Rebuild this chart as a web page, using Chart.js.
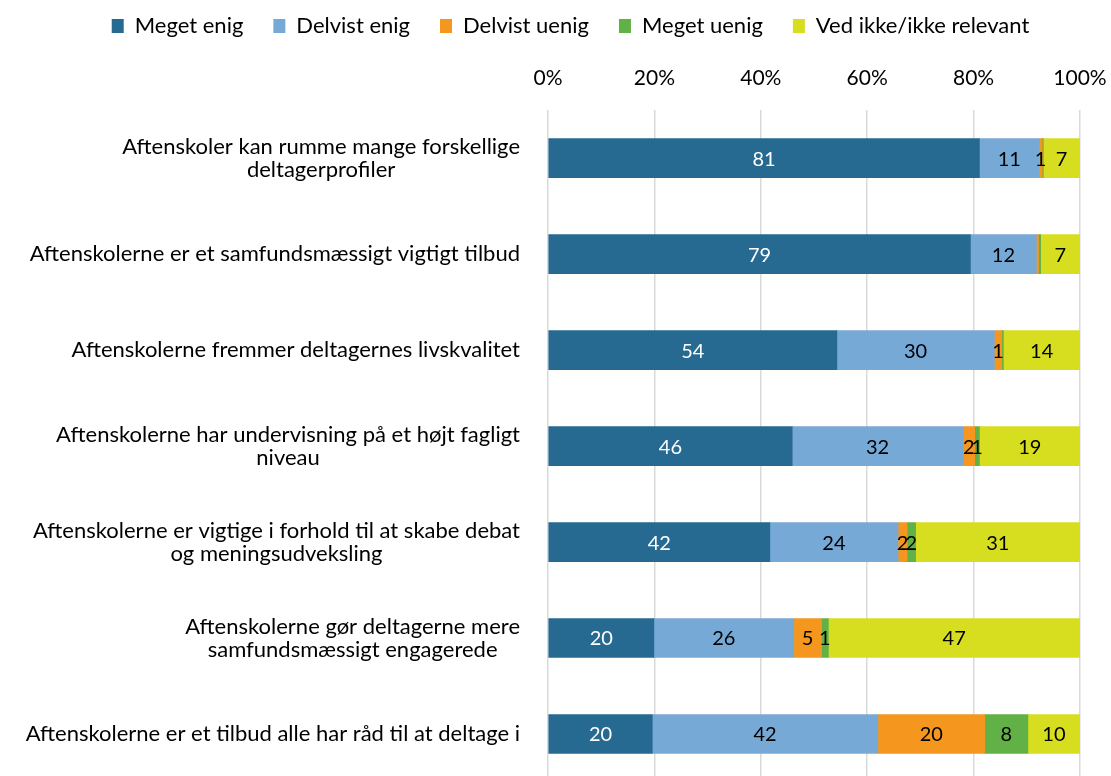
<!DOCTYPE html>
<html>
<head>
<meta charset="utf-8">
<script src="https://cdn.jsdelivr.net/npm/chart.js@4.4.1/dist/chart.umd.min.js"></script>
<style>
  html, body { margin: 0; padding: 0; background: #ffffff; overflow: hidden; }
  #wrap { width: 1111px; height: 776px; overflow: hidden; }
</style>
</head>
<body>
<div id="wrap"><canvas id="chart" width="1111" height="782"></canvas></div>
<script>
// Statements (y axis categories)
const categories = [
    ["Aftenskoler kan rumme mange forskellige", "deltagerprofiler"],
    ["Aftenskolerne er et samfundsmæssigt vigtigt tilbud"],
    ["Aftenskolerne fremmer deltagernes livskvalitet"],
    ["Aftenskolerne har undervisning på et højt fagligt", "niveau"],
    ["Aftenskolerne er vigtige i forhold til at skabe debat", "og meningsudveksling"],
    ["Aftenskolerne gør deltagerne mere", "samfundsmæssigt engagerede"],
    ["Aftenskolerne er et tilbud alle har råd til at deltage i"]
];

// Answer shares in percent
const megetEnig   = [81.1, 79.4, 54.3, 45.9, 41.7, 19.9, 19.6];
const delvistEnig = [11.2, 12.4, 29.6, 32.1, 24.1, 26.3, 42.4];
const delvistUenig = [0.6, 0.4, 1.4, 2.2, 1.7, 5.2, 20.1];
const megetUenig  = [0.2, 0.4, 0.3, 0.9, 1.6, 1.3, 8.1];
const vedIkke     = [6.9, 7.4, 14.4, 18.9, 30.9, 47.3, 9.8];

const seriesNames = ["Meget enig", "Delvist enig", "Delvist uenig", "Meget uenig", "Ved ikke/ikke relevant"];
const seriesColors = ["#266A91", "#77A9D7", "#F5961F", "#62B146", "#D6DE1F"];
const labelColors = ["#ffffff", "#000000", "#000000", "#000000", "#000000"];

const xTicks = [0, 20, 40, 60, 80, 100];

const FONT = "Lato";
const PAD_LEFT = 30;

// value labels inside the segments
const segmentLabels = {
    id: "segmentLabels",
    afterDatasetsDraw(chart) {
        const ctx = chart.ctx;
        ctx.save();
        ctx.font = "20px " + FONT;
        ctx.textAlign = "center";
        ctx.textBaseline = "middle";
        chart.data.datasets.forEach((ds, di) => {
            const meta = chart.getDatasetMeta(di);
            meta.data.forEach((bar, i) => {
                const v = ds.data[i];
                if (v < 0.5) return;
                const left = Math.min(bar.x, bar.base);
                const right = Math.max(bar.x, bar.base);
                ctx.fillStyle = labelColors[di];
                ctx.fillText(String(Math.round(v)), (left + right) / 2, bar.y + 1);
            });
        });
        ctx.restore();
    }
};

// category labels: block right-aligned to the axis, lines centred inside the block
const categoryLabels = {
    id: "categoryLabels",
    afterDraw(chart) {
        const ctx = chart.ctx;
        const yScale = chart.scales.y;
        const rightEdge = chart.chartArea.left - 28;
        const lineHeight = 23;
        ctx.save();
        ctx.font = "22px " + FONT;
        ctx.fillStyle = "#000000";
        ctx.textAlign = "center";
        ctx.textBaseline = "middle";
        categories.forEach((lines, i) => {
            const y = yScale.getPixelForTick(i);
            const blockW = Math.max(...lines.map(l => ctx.measureText(l).width));
            const cx = rightEdge - blockW / 2;
            const y0 = y - (lines.length - 1) * lineHeight / 2;
            lines.forEach((l, k) => ctx.fillText(l, cx, y0 + k * lineHeight));
        });
        ctx.restore();
    }
};

const allSeries = [megetEnig, delvistEnig, delvistUenig, megetUenig, vedIkke];

new Chart(document.getElementById("chart").getContext("2d"), {
    type: "bar",
    data: {
        labels: categories.map(c => c.join(" ")),
        datasets: allSeries.map((data, i) => ({
            label: seriesNames[i],
            data: data,
            backgroundColor: seriesColors[i],
            borderWidth: 0,
            barThickness: 39
        }))
    },
    options: {
        indexAxis: "y",
        responsive: false,
        animation: false,
        layout: { padding: { left: PAD_LEFT, right: 0, top: -15, bottom: 0 } },
        scales: {
            x: {
                position: "top",
                stacked: true,
                min: 0,
                max: 100,
                afterBuildTicks(scale) {
                    scale.ticks = xTicks.map(v => ({ value: v }));
                },
                afterFit(scale) {
                    scale.paddingLeft = 0;
                    scale.paddingRight = 31;
                },
                ticks: {
                    callback: v => v + "%",
                    color: "#000000",
                    font: { family: FONT, size: 21 },
                    padding: 19
                },
                grid: { color: "#d9d9d9", lineWidth: 1.5, drawTicks: false },
                border: { display: false }
            },
            y: {
                stacked: true,
                ticks: { display: false },
                grid: { display: false },
                border: { display: false },
                afterFit(scale) { scale.width = 548 - PAD_LEFT; }
            }
        },
        plugins: {
            legend: {
                position: "top",
                labels: {
                    color: "#000000",
                    font: { family: FONT, size: 22 },
                    boxWidth: 12,
                    boxHeight: 14,
                    padding: 30
                }
            },
            tooltip: { enabled: false }
        }
    },
    plugins: [segmentLabels, categoryLabels]
});
</script>
</body>
</html>
